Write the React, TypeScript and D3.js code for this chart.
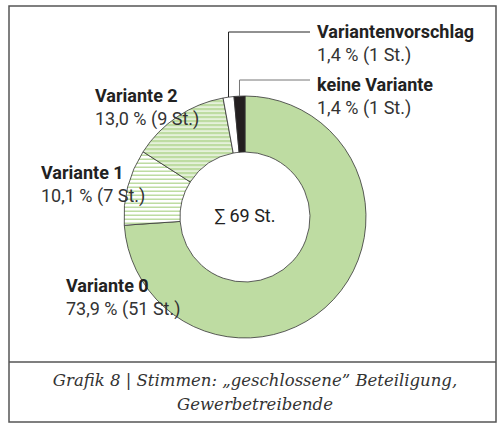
import React from 'react'
import * as d3 from 'd3'

// vote counts per option, in drawing order (clockwise from 12 o'clock)
const categories = ['Variante 0', 'Variante 1', 'Variante 2', 'Variantenvorschlag', 'keine Variante']
const votes = [51, 7, 9, 1, 1]
const percentLabels = ['73,9 %', '10,1 %', '13,0 %', '1,4 %', '1,4 %']
const caption = ['Grafik 8 | Stimmen: „geschlossene” Beteiligung,', 'Gewerbetreibende']

const width = 498,
    height = 430

const green = '#bedca2'

const App = () => {
    const cx = 245,
        cy = 217
    const outerR = 121,
        innerR = 65

    const pie = d3.pie<number>().sort(null).value(d => d)
    const slices = pie(votes)
    const arc = d3.arc<d3.PieArcDatum<number>>().innerRadius(innerR).outerRadius(outerR)

    const fills = [green, 'url(#stripeLight)', 'url(#stripeDark)', '#ffffff', '#231f20']
    const total = d3.sum(votes)

    // label anchors (left edge of text, baseline of first line)
    const labelPos: [number, number][] = [
        [66, 292],
        [41, 179],
        [95, 102],
        [317, 38],
        [317, 91],
    ]
    // elbow height for the two small slices
    const elbowY = [0, 0, 0, 32, 80]

    const font = 'Roboto, sans-serif'

    return (
        <div style={{ position: 'absolute', left: 0, top: 0 }}>
            <svg width={width} height={height} style={{ display: 'block' }}>
                <defs>
                    <pattern id="stripeLight" patternUnits="userSpaceOnUse" width={8} height={4}>
                        <rect width={8} height={4} fill="#ffffff" />
                        <rect y={1.5} width={8} height={1.5} fill={green} />
                    </pattern>
                    <pattern id="stripeDark" patternUnits="userSpaceOnUse" width={8} height={4}>
                        <rect width={8} height={4} fill={green} />
                        <rect y={1.5} width={8} height={1.1} fill="#ffffff" />
                    </pattern>
                </defs>
                <rect x={9} y={6} width={487} height={416} fill="#fff" stroke="#555" strokeWidth={1.5} />
                <line x1={9} x2={496} y1={362} y2={362} stroke="#555" strokeWidth={1.5} />

                <g transform={`translate(${cx},${cy})`}>
                    {slices.map((s, i) => (
                        <path key={i} d={arc(s) || ''} fill={fills[i]} stroke="#333" strokeWidth={0.8} />
                    ))}
                    <text x={0} y={5} textAnchor="middle" fontFamily={font} fontSize={18} fill="#222">
                        ∑ {total} St.
                    </text>
                </g>

                {slices.map((s, i) => {
                    if (!elbowY[i]) return null
                    const mid = (s.startAngle + s.endAngle) / 2
                    const x = cx + outerR * Math.sin(mid)
                    const y = cy - outerR * Math.cos(mid)
                    return (
                        <polyline
                            key={i}
                            points={`${x},${y} ${x},${elbowY[i]} ${310},${elbowY[i]}`}
                            fill="none"
                            stroke={i === 3 ? '#222' : '#777'}
                            strokeWidth={1}
                        />
                    )
                })}

                {categories.map((c, i) => (
                    <text key={c} x={labelPos[i][0]} y={labelPos[i][1]} fontFamily={font} fontSize={18}>
                        <tspan fontWeight="bold" fill="#222">{c}</tspan>
                        <tspan x={labelPos[i][0]} dy={23} fill="#333">
                            {percentLabels[i]} ({votes[i]} St.)
                        </tspan>
                    </text>
                ))}

                {caption.map((t, i) => (
                    <text
                        key={i}
                        x={255}
                        y={386 + i * 24}
                        textAnchor="middle"
                        fontFamily="'DejaVu Serif', serif"
                        fontStyle="italic"
                        fontSize={16.5}
                        fill="#333"
                    >
                        {t}
                    </text>
                ))}
            </svg>
        </div>
    )
}

export default App
